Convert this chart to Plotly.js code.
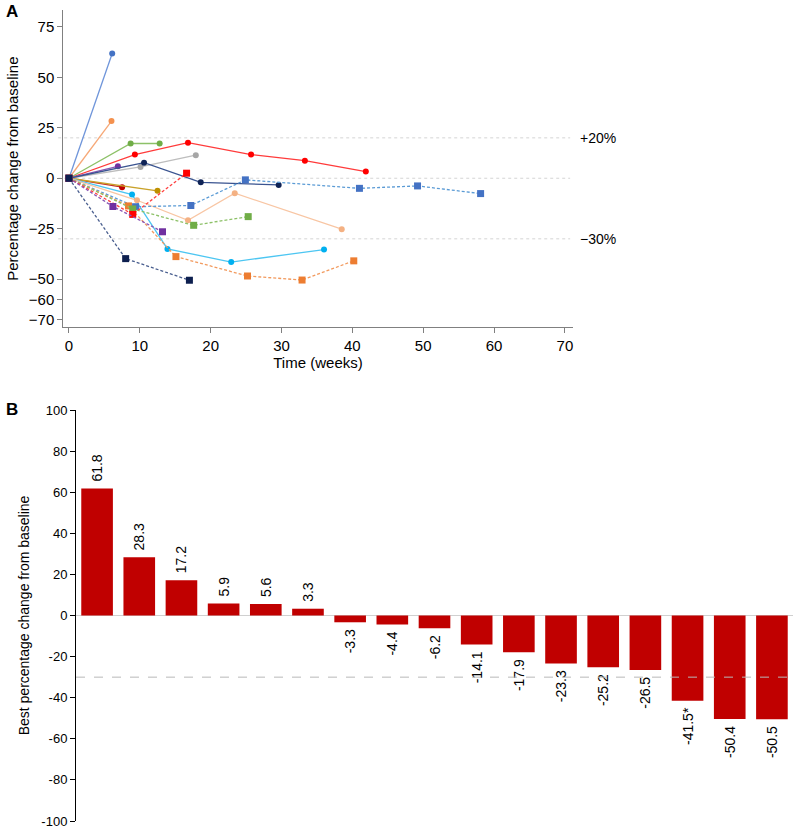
<!DOCTYPE html>
<html>
<head>
<meta charset="utf-8">
<script src="https://cdn.plot.ly/plotly-3.0.1.min.js"></script>
<style>html,body{margin:0;padding:0;background:#fff;}#chart{width:795px;height:829px;}</style>
</head>
<body>
<div id="chart"></div>
<script>
// ---------- Panel A: percentage change over time ----------
const blueSolidX = [0, 6.1];               const blueSolidY = [0, 61.8];
const orangeSolidX = [0, 6.0];             const orangeSolidY = [0, 28.3];
const greenSolidX = [0, 8.7, 12.8];        const greenSolidY = [0, 17.2, 17.2];
const redSolidX = [0, 9.3, 16.8, 25.7, 33.3, 41.9]; const redSolidY = [0, 11.7, 17.6, 11.7, 8.7, 3.3];
const purpleSolidX = [0, 6.9];             const purpleSolidY = [0, 5.9];
const graySolidX = [0, 10.1, 17.9];        const graySolidY = [0, 5.6, 11.4];
const navySolidX = [0, 10.6, 18.6, 29.6];  const navySolidY = [0, 7.7, -2.0, -3.3];
const darkRedSolidX = [0, 7.5];            const darkRedSolidY = [0, -4.4];
const goldSolidX = [0, 12.5];              const goldSolidY = [0, -6.2];
const cyanSolidX = [0, 8.9, 13.9, 22.9, 36.0]; const cyanSolidY = [0, -8.1, -35.0, -41.5, -35.3];
const peachSolidX = [0, 9.6, 16.8, 23.4, 38.5]; const peachSolidY = [0, -10.9, -20.8, -7.4, -25.2];
const blueDashX = [0, 9.4, 17.2, 24.9, 41.0, 49.2, 58.1]; const blueDashY = [0, -14.1, -13.5, -0.8, -5.0, -3.8, -7.6];
const orangeDashX = [0, 8.4, 15.1, 25.2, 32.9, 40.2]; const orangeDashY = [0, -13.7, -38.8, -48.4, -50.4, -40.9];
const greenDashX = [0, 9.0, 17.6, 25.3];   const greenDashY = [0, -15.2, -23.3, -19.0];
const redDashX = [0, 9.0, 16.6];           const redDashY = [0, -17.9, 2.5];
const purpleDashX = [0, 6.2, 13.2];        const purpleDashY = [0, -14.0, -26.5];
const navyDashX = [0, 8.0, 17.0];          const navyDashY = [0, -39.8, -50.5];

const panelAXTicks = [0, 10, 20, 30, 40, 50, 60, 70];
const panelAYTicks = [75, 50, 25, 0, -25, -50, -60, -70];
const refLineValues = [20, 0, -30];
const refLineLabels = ['+20%', '', '\u221230%'];

// ---------- Panel B: best percentage change ----------
const barValues = [61.8, 28.3, 17.2, 5.9, 5.6, 3.3, -3.3, -4.4, -6.2, -14.1, -17.9, -23.3, -25.2, -26.5, -41.5, -50.4, -50.5];
const barLabels = ['61.8', '28.3', '17.2', '5.9', '5.6', '3.3', '-3.3', '-4.4', '-6.2', '-14.1', '-17.9', '-23.3', '-25.2', '-26.5', '-41.5*', '-50.4', '-50.5'];
const panelBYTicks = [100, 80, 60, 40, 20, 0, -20, -40, -60, -80, -100];
const panelBYTickText = ['100', '80', '60', '40', '20', '0', '-20', '-40', '-60', '-80', '-100'];
const thresholdB = -30;

const FONT = 'Liberation Sans, Arial, sans-serif';

function line(x, y, lineColor, markerColor, dashed) {
  return {
    type: 'scatter', mode: 'lines+markers', x: x, y: y,
    xaxis: 'x', yaxis: 'y', showlegend: false, hoverinfo: 'skip',
    line: {color: lineColor, width: 1.3, dash: dashed ? '3px,2px' : 'solid'},
    marker: {color: markerColor, size: dashed ? 7 : 6, symbol: dashed ? 'square' : 'circle'},
    cliponaxis: false
  };
}

const traces = [
  line(blueSolidX, blueSolidY, '#6F95DA', '#4472C4', false),
  line(orangeSolidX, orangeSolidY, '#F6A877', '#F4914E', false),
  line(greenSolidX, greenSolidY, '#8DC168', '#70AD47', false),
  line(redSolidX, redSolidY, '#FF3B3B', '#FF0000', false),
  line(purpleSolidX, purpleSolidY, '#8A55B5', '#7030A0', false),
  line(graySolidX, graySolidY, '#BDBDBD', '#A6A6A6', false),
  line(navySolidX, navySolidY, '#3A5490', '#0F2356', false),
  line(darkRedSolidX, darkRedSolidY, '#C62828', '#C00000', false),
  line(goldSolidX, goldSolidY, '#C9A22A', '#BF9000', false),
  line(cyanSolidX, cyanSolidY, '#4DC6F2', '#00B0F0', false),
  line(peachSolidX, peachSolidY, '#F8C6A4', '#F4B183', false),
  line(blueDashX, blueDashY, '#5B9BD5', '#4472C4', true),
  line(orangeDashX, orangeDashY, '#F29A5E', '#ED7D31', true),
  line(greenDashX, greenDashY, '#8DC168', '#70AD47', true),
  line(redDashX, redDashY, '#FF4040', '#FF0000', true),
  line(purpleDashX, purpleDashY, '#8A55B5', '#7030A0', true),
  line(navyDashX, navyDashY, '#4A5F8F', '#0D1F4F', true),
  {
    type: 'bar', x: barValues.map((v, i) => i), y: barValues,
    xaxis: 'x2', yaxis: 'y2', showlegend: false, hoverinfo: 'skip',
    marker: {color: '#C00000', line: {width: 0}},
    text: barLabels,
    texttemplate: barValues.map(v => v >= 0 ? '\u00a0%{text}' : '%{text}\u00a0'),
    textposition: 'outside',
    textangle: -90, constraintext: 'none', cliponaxis: false,
    outsidetextfont: {family: FONT, size: 14, color: '#000'}
  }
];

const shapes = [];
const annotations = [];
refLineValues.forEach((v, i) => {
  shapes.push({type: 'line', xref: 'x domain', yref: 'y', x0: -0.01, x1: 0.995, y0: v, y1: v,
    line: {color: '#D4D4D4', width: 1, dash: 'dot'}, layer: 'below'});
  if (refLineLabels[i]) {
    annotations.push({xref: 'paper', yref: 'y', x: 578 / 795, y: v, xanchor: 'left', yanchor: 'middle',
      text: refLineLabels[i], showarrow: false, font: {family: FONT, size: 14, color: '#000'}});
  }
});
shapes.push({type: 'line', xref: 'x2 domain', yref: 'y2', x0: 0, x1: 1, y0: 0, y1: 0,
  line: {color: '#D0D0D0', width: 1}, layer: 'below'});
shapes.push({type: 'line', xref: 'x2 domain', yref: 'y2', x0: 0, x1: 0.995, y0: thresholdB, y1: thresholdB,
  line: {color: '#B8B8B8', width: 1, dash: 'dash'}, layer: 'above'});

annotations.push({xref: 'paper', yref: 'paper', x: 4 / 795, y: 1, xanchor: 'left', yanchor: 'top',
  text: '<b>A</b>', showarrow: false, font: {family: FONT, size: 17, color: '#000'}});
annotations.push({xref: 'paper', yref: 'paper', x: 4 / 795, y: 1 - 398 / 829, xanchor: 'left', yanchor: 'top',
  text: '<b>B</b>', showarrow: false, font: {family: FONT, size: 17, color: '#000'}});

const layout = {
  width: 795, height: 829,
  margin: {l: 0, r: 0, t: 0, b: 0},
  paper_bgcolor: '#fff', plot_bgcolor: '#fff',
  font: {family: FONT, color: '#000'},
  showlegend: false,
  xaxis: {
    domain: [63.3 / 795, 572.7 / 795], range: [-0.8, 71.1],
    tickvals: panelAXTicks, ticks: 'outside', ticklen: 5, tickcolor: '#808080',
    showline: true, linecolor: '#808080', linewidth: 1, showgrid: false, zeroline: false,
    tickfont: {family: FONT, size: 15, color: '#000'},
    title: {text: 'Time (weeks)', font: {family: FONT, size: 15, color: '#000'}, standoff: 2},
    anchor: 'y'
  },
  yaxis: {
    domain: [1 - 327.3 / 829, 1 - 10 / 829], range: [-73.8, 83.3],
    tickvals: panelAYTicks, ticks: 'outside', ticklen: 5, tickcolor: '#808080',
    showline: true, linecolor: '#808080', linewidth: 1, showgrid: false, zeroline: false,
    tickfont: {family: FONT, size: 15, color: '#000'},
    title: {text: 'Percentage change from baseline', font: {family: FONT, size: 15, color: '#000'}, standoff: 6},
    anchor: 'x'
  },
  xaxis2: {
    domain: [76 / 795, 793 / 795], range: [-0.5, 16.5],
    showticklabels: false, ticks: '', showline: false, showgrid: false, zeroline: false,
    anchor: 'y2'
  },
  yaxis2: {
    domain: [1 - 821 / 829, 1 - 410 / 829], range: [-100, 100],
    tickvals: panelBYTicks, ticktext: panelBYTickText, ticks: 'outside', ticklen: 5, tickcolor: '#000',
    ticklabeloverflow: 'allow',
    showline: true, linecolor: '#000', linewidth: 1, showgrid: false, zeroline: false,
    tickfont: {family: FONT, size: 13, color: '#000'},
    title: {text: 'Best percentage change from baseline', font: {family: FONT, size: 14, color: '#000'}, standoff: 8},
    anchor: 'x2'
  },
  bargap: 0.25,
  shapes: shapes,
  annotations: annotations
};

Plotly.newPlot('chart', traces, layout, {displayModeBar: false, staticPlot: true});
</script>
</body>
</html>
